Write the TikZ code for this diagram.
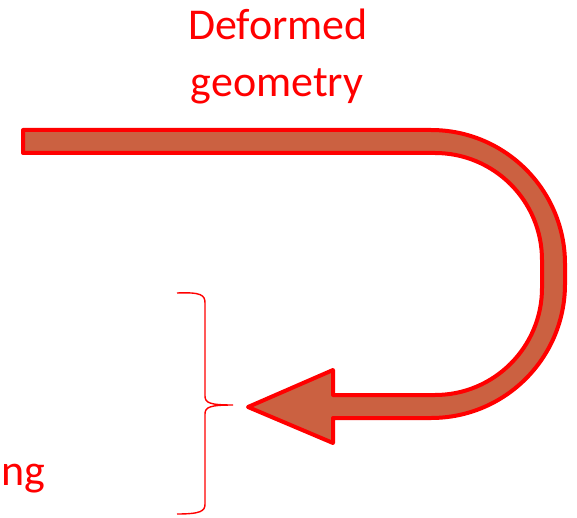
\documentclass[tikz,border=0pt]{standalone}
\usepackage{fontspec}
\setmainfont{Carlito}
\usepackage{xcolor}
\definecolor{uturnfill}{RGB}{203,97,65}

\begin{document}
\begin{tikzpicture}[x=1pt, y=-1pt,
    every node/.style={text=red, inner sep=0pt, font=\fontsize{44}{57}\selectfont}]
  \useasboundingbox (0,0) rectangle (577,518);
  % labels
  \node[anchor=base] (deform) at (278,40) {Deformed};
  \node[anchor=base] (geom) at (277,97) {geometry};
  \node[anchor=base west] (cut) at (1,485) {ng};
  % U-turn arrow
  \coordinate (tip) at (248,407);
  \filldraw[draw=red, fill=uturnfill, line width=4pt, line join=round]
    (23,130) [rounded corners=134pt] -- (565,130) -- (565,418)
    [sharp corners] -- (333,418) -- (333,443) -- (tip) -- (333,370) -- (333,395)
    [rounded corners=107pt] -- (542,395) -- (542,153)
    [sharp corners] -- (23,153) -- cycle;
  % brace pointing at the arrow tip
  \coordinate (btip) at (233,405);
  \draw[red, line width=1.4pt]
    (177,293) .. controls (201,292) and (205,295) .. (205,303) -- (205,396)
    .. controls (205,403) and (210,405) .. (btip)
    .. controls (210,405) and (205,407) .. (205,414) -- (205,504)
    .. controls (205,511) and (201,514) .. (177,514);
\end{tikzpicture}
\end{document}
